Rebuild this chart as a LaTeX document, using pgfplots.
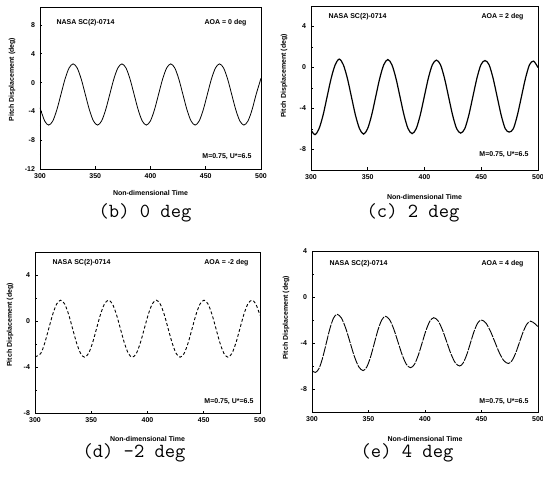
\documentclass[border=0pt]{standalone}
\usepackage{pgfplots}
\pgfplotsset{compat=1.18}
\usepackage{fontspec}
\setmainfont{Liberation Sans}
\newcommand{\lblfont}{\fontsize{7}{8}\selectfont\bfseries}
\pgfplotsset{panel/.style={
  scale only axis, anchor=south west,
  xmin=300, xmax=500, xtick={300,350,400,450,500},
  tick align=inside, xtick pos=left, ytick pos=left,
  major tick length=2.5pt, minor y tick num=1, minor tick length=1.5pt,
  tick label style={font=\lblfont},
  /pgf/number format/assume math mode=true,
  /pgf/number format/1000 sep={},
  label style={font=\lblfont},
  xlabel={Non-dimensional Time},
  ylabel={Pitch Displacement (deg)},
  axis line style={line width=0.9pt},
  every tick/.style={black, line width=0.6pt},
  yticklabel style={xshift=-1.5pt},
  xticklabel style={yshift=-1pt},
}}
\begin{document}
\begin{tikzpicture}
\useasboundingbox (0pt,0pt) rectangle (543pt,477pt);
% (b)
\begin{axis}[panel, at={(40pt,308pt)}, width=221pt, height=162pt,
  ymin=-12, ymax=10.5, ytick={-12,-8,-4,0,4,8},
  xlabel style={at={([yshift=-24pt]axis description cs:0.5,0)}, anchor=center},
  ylabel style={at={([xshift=-28pt]axis description cs:0,0.552)}, anchor=center}]
\addplot[black, line width=0.8pt, smooth] coordinates {
(300,-3.49)(304.22,-5.33)(307.90,-5.9)(311.58,-5.33)(315.26,-3.775)(318.94,-1.65)
(322.62,0.475)(326.30,2.03)(329.98,2.6)(333.66,2.03)(337.34,0.475)(341.02,-1.65)
(344.70,-3.775)(348.38,-5.33)(352.06,-5.9)(355.74,-5.33)(359.42,-3.775)(363.10,-1.65)
(366.78,0.475)(370.46,2.03)(374.14,2.6)(377.82,2.03)(381.50,0.475)(385.18,-1.65)
(388.86,-3.775)(392.54,-5.33)(396.22,-5.9)(399.90,-5.33)(403.58,-3.775)(407.26,-1.65)
(410.94,0.475)(414.62,2.03)(418.30,2.6)(421.98,2.03)(425.66,0.475)(429.34,-1.65)
(433.02,-3.775)(436.70,-5.33)(440.38,-5.9)(444.06,-5.33)(447.74,-3.775)(451.42,-1.65)
(455.10,0.475)(458.78,2.03)(462.46,2.6)(466.14,2.03)(469.82,0.475)(473.50,-1.65)
(477.18,-3.775)(480.86,-5.33)(484.54,-5.9)(488.22,-5.33)(491.90,-3.775)(495.58,-1.65)
(500,0.6)};
\node[anchor=west, font=\lblfont] at ([xshift=13pt,yshift=-16pt]rel axis cs:0,1) {NASA SC(2)-0714};
\node[anchor=east, font=\lblfont] at ([xshift=-11pt,yshift=-16pt]rel axis cs:1,1) {AOA = 0 deg};
\node[anchor=east, font=\lblfont] at ([xshift=-6pt,yshift=12pt]rel axis cs:1,0) {M=0.75, U*=6.5};
\end{axis}
% (c)
\begin{axis}[panel, at={(311pt,307pt)}, width=227pt, height=164pt,
  ymin=-10, ymax=6, ytick={-8,-4,0,4},
  xlabel style={at={([yshift=-27pt]axis description cs:0.5,0)}, anchor=center},
  ylabel style={at={([xshift=-27pt]axis description cs:0,0.573)}, anchor=center}]
\addplot[black, line width=1.2pt, smooth] coordinates {
(300,-6.1)(303.50,-6.55)(307.07,-5.97)(310.63,-4.65)(314.20,-2.85)(317.77,-1.05)
(321.33,0.27)(324.90,0.82)(328.47,0.27)(332.03,-1.05)(335.60,-2.85)(339.17,-4.65)
(342.73,-5.97)(346.30,-6.5)(349.87,-5.97)(353.43,-4.65)(357.00,-2.85)(360.57,-1.05)
(364.13,0.27)(367.70,0.78)(371.27,0.27)(374.83,-1.05)(378.40,-2.85)(381.97,-4.65)
(385.53,-5.97)(389.10,-6.45)(392.67,-5.97)(396.23,-4.65)(399.80,-2.85)(403.37,-1.05)
(406.93,0.27)(410.50,0.72)(414.07,0.27)(417.63,-1.05)(421.20,-2.85)(424.77,-4.65)
(428.33,-5.97)(431.90,-6.4)(435.47,-5.97)(439.03,-4.65)(442.60,-2.85)(446.17,-1.05)
(449.73,0.27)(453.30,0.68)(456.87,0.27)(460.43,-1.05)(464.00,-2.85)(467.57,-4.65)
(471.13,-5.97)(474.70,-6.3)(478.27,-5.97)(481.83,-4.65)(485.40,-2.85)(488.97,-1.05)
(492.53,0.27)(496.10,0.62)(500,0.0)};
\node[anchor=west, font=\lblfont] at ([xshift=14pt,yshift=-11pt]rel axis cs:0,1) {NASA SC(2)-0714};
\node[anchor=east, font=\lblfont] at ([xshift=-11pt,yshift=-11pt]rel axis cs:1,1) {AOA = 2 deg};
\node[anchor=east, font=\lblfont] at ([xshift=-6pt,yshift=15pt]rel axis cs:1,0) {M=0.75, U*=6.5};
\end{axis}
% (d)
\begin{axis}[panel, at={(35pt,64pt)}, width=225pt, height=161pt,
  ymin=-8, ymax=6, ytick={-8,-4,0,4},
  xlabel style={at={([yshift=-26pt]axis description cs:0.5,0)}, anchor=center},
  ylabel style={at={([xshift=-25pt]axis description cs:0,0.547)}, anchor=center}]
\addplot[black, line width=0.9pt, smooth, dash pattern=on 3pt off 2.2pt] coordinates {
(300,-3.12)(305.11,-2.82)(308.65,-1.91)(312.19,-0.67)(315.73,0.57)
(319.27,1.48)(322.81,1.81)(326.35,1.48)(329.89,0.57)(333.43,-0.67)(336.97,-1.91)
(340.51,-2.82)(344.05,-3.15)(347.59,-2.82)(351.13,-1.91)(354.67,-0.67)(358.21,0.57)
(361.75,1.48)(365.29,1.81)(368.83,1.48)(372.37,0.57)(375.91,-0.67)(379.45,-1.91)
(382.99,-2.82)(386.53,-3.15)(390.07,-2.82)(393.61,-1.91)(397.15,-0.67)(400.69,0.57)
(404.23,1.48)(407.77,1.81)(411.31,1.48)(414.85,0.57)(418.39,-0.67)(421.93,-1.91)
(425.47,-2.82)(429.01,-3.15)(432.55,-2.82)(436.09,-1.91)(439.63,-0.67)(443.17,0.57)
(446.71,1.48)(450.25,1.81)(453.79,1.48)(457.33,0.57)(460.87,-0.67)(464.41,-1.91)
(467.95,-2.82)(471.49,-3.15)(475.03,-2.82)(478.57,-1.91)(482.11,-0.67)(485.65,0.57)
(489.19,1.48)(492.73,1.81)(496.27,1.48)(500,0.5)};
\node[anchor=west, font=\lblfont] at ([xshift=14pt,yshift=-11pt]rel axis cs:0,1) {NASA SC(2)-0714};
\node[anchor=east, font=\lblfont] at ([xshift=-8pt,yshift=-11pt]rel axis cs:1,1) {AOA = -2 deg};
\node[anchor=east, font=\lblfont] at ([xshift=-3pt,yshift=11pt]rel axis cs:1,0) {M=0.75, U*=6.5};
\end{axis}
% (e)
\begin{axis}[panel, at={(312pt,65pt)}, width=226pt, height=161pt,
  ymin=-10, ymax=4, ytick={-8,-4,0,4},
  xlabel style={at={([yshift=-27pt]axis description cs:0.5,0)}, anchor=center},
  ylabel style={at={([xshift=-26pt]axis description cs:0,0.584)}, anchor=center}]
\addplot[black, line width=0.9pt, smooth, dash pattern=on 10pt off 1.2pt] coordinates {
(300,-6.4)(303,-6.56)(306.2,-6.22)(309.4,-5.295)(312.6,-4.03)(315.8,-2.765)(319.0,-1.84)
(322.2,-1.5)(326.03,-1.83)(329.87,-2.725)(333.7,-3.95)(337.53,-5.175)(341.37,-6.07)
(345.2,-6.4)(348.5,-6.08)(351.8,-5.22)(355.1,-4.04)(358.4,-2.86)(361.7,-2.00)
(365,-1.68)(368.7,-1.98)(372.4,-2.80)(376.1,-3.915)(379.8,-5.03)(383.5,-5.85)
(387.2,-6.15)(390.63,-5.86)(394.07,-5.06)(397.5,-3.975)(400.93,-2.89)(404.37,-2.09)
(407.8,-1.8)(411.6,-2.08)(415.4,-2.85)(419.2,-3.9)(423.0,-4.95)(426.8,-5.72)
(430.6,-6.0)(433.8,-5.73)(437.0,-5.0)(440.2,-4.0)(443.4,-3.0)(446.6,-2.27)
(449.8,-2.0)(453.78,-2.25)(457.77,-2.945)(461.75,-3.89)(465.73,-4.835)(469.72,-5.53)
(473.7,-5.78)(477.0,-5.53)(480.3,-4.86)(483.6,-3.94)(486.9,-3.02)(490.2,-2.35)
(493.5,-2.1)(497.33,-2.33)(500,-2.6)};
\node[anchor=west, font=\lblfont] at ([xshift=14pt,yshift=-13pt]rel axis cs:0,1) {NASA SC(2)-0714};
\node[anchor=east, font=\lblfont] at ([xshift=-11pt,yshift=-13pt]rel axis cs:1,1) {AOA = 4 deg};
\node[anchor=east, font=\lblfont] at ([xshift=-6pt,yshift=10pt]rel axis cs:1,0) {M=0.75, U*=6.5};
\end{axis}
% captions
\node[font=\ttfamily\fontsize{20}{22}\selectfont] at (145pt,264pt) {(b) 0 deg};
\node[font=\ttfamily\fontsize{20}{22}\selectfont] at (413pt,264pt) {(c) 2 deg};
\node[font=\ttfamily\fontsize{20}{22}\selectfont] at (134pt,24pt) {(d) -2 deg};
\node[font=\ttfamily\fontsize{20}{22}\selectfont] at (407pt,24pt) {(e) 4 deg};
\end{tikzpicture}
\end{document}
